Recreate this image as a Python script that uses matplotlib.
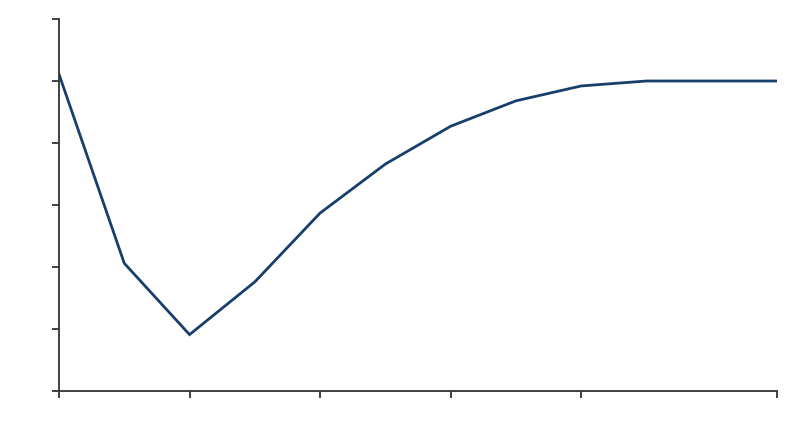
import matplotlib
matplotlib.use("Agg")
from matplotlib import pyplot as plt

# readings (no labels shown on the original)
periods = list(range(12))
values = [5.11, 2.06, 0.91, 1.76, 2.87, 3.66, 4.27, 4.68, 4.92, 5.0, 5.0, 5.0]
x_ticks = [0, 2, 4, 6, 8, 11]
y_ticks = [0, 1, 2, 3, 4, 5, 6]


def main():
    fig = plt.figure(figsize=(8, 4.47), dpi=100)
    ax = fig.add_axes([59 / 800, 56 / 447, (777 - 59) / 800, (391 - 19) / 447])

    ax.plot(periods, values, color="#173f6b", linewidth=2, solid_joinstyle="miter")

    ax.set_xlim(0, 11)
    ax.set_ylim(0, 6)
    ax.set_xticks(x_ticks)
    ax.set_yticks(y_ticks)
    ax.set_xticklabels([])
    ax.set_yticklabels([])
    ax.tick_params(direction="out", length=5, width=1.3, color="#333333")

    for side in ["top", "right"]:
        ax.spines[side].set_visible(False)
    for side in ["left", "bottom"]:
        ax.spines[side].set_color("#333333")
        ax.spines[side].set_linewidth(1.3)

    fig.savefig("out.png", dpi=100)


main()
